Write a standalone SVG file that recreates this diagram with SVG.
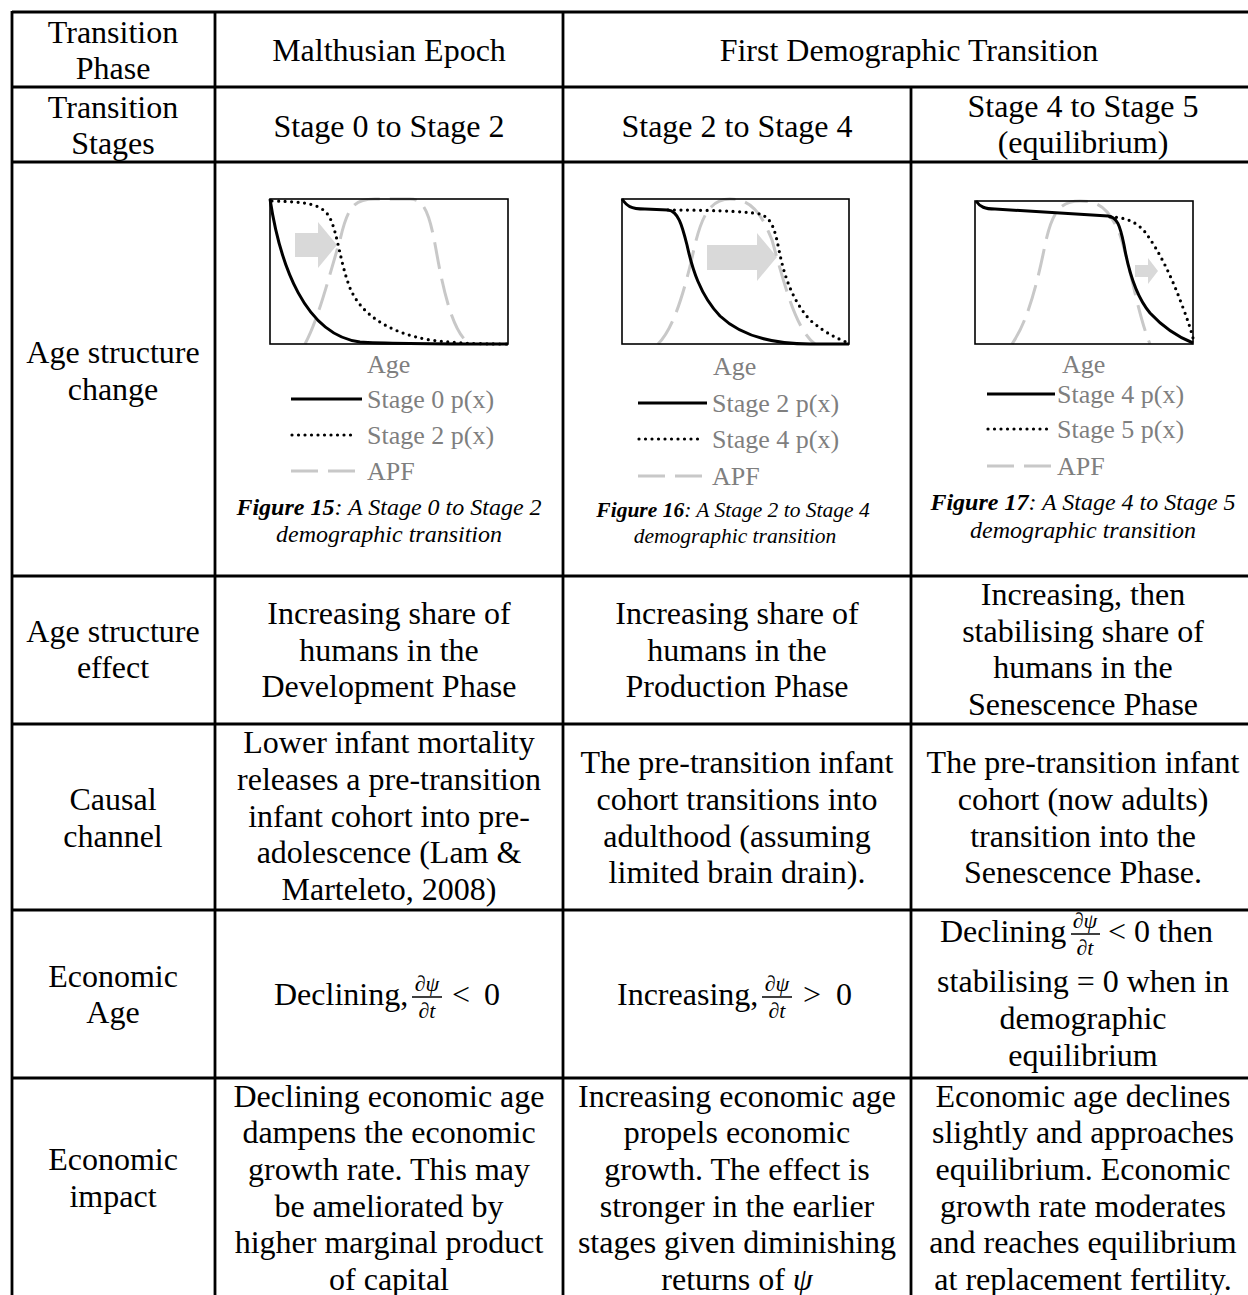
<svg xmlns="http://www.w3.org/2000/svg" width="1248" height="1295" viewBox="0 0 1248 1295">
<style>
.t{font-family:"Liberation Serif","Times New Roman",serif;font-size:32px;fill:#000;text-anchor:middle}
.m{font-family:"Liberation Serif","Times New Roman",serif;font-size:32px;fill:#000}
.fr{font-family:"Liberation Serif","Times New Roman",serif;font-size:22px;font-style:italic;fill:#000;text-anchor:middle}
.lg{font-family:"Liberation Serif","Times New Roman",serif;font-size:26px;fill:#7f7f7f}
.cap{font-family:"Liberation Serif","Times New Roman",serif;font-size:24px;font-style:italic;fill:#000;text-anchor:middle}
.cap2{font-size:21.5px}
.grid line{stroke:#000;stroke-width:2.8}
.box{fill:none;stroke:#000;stroke-width:1.6}
.solid{fill:none;stroke:#000;stroke-width:3}
.dot{fill:none;stroke:#000;stroke-width:3.2;stroke-dasharray:0 6.5;stroke-linecap:round}
.apf{fill:none;stroke:#c8c8c8;stroke-width:3;stroke-dasharray:27 10}
.arr{fill:#d9d9d9}
.bar{stroke:#000;stroke-width:1.5}
</style>
<rect width="1248" height="1295" fill="#fff"/>
<g id="table-lines" class="grid">
<line x1="12" y1="12" x2="1248" y2="12"/>
<line x1="12" y1="87" x2="1248" y2="87"/>
<line x1="12" y1="162" x2="1248" y2="162"/>
<line x1="12" y1="576" x2="1248" y2="576"/>
<line x1="12" y1="724" x2="1248" y2="724"/>
<line x1="12" y1="910" x2="1248" y2="910"/>
<line x1="12" y1="1078" x2="1248" y2="1078"/>
<line x1="12" y1="11" x2="12" y2="1295"/>
<line x1="215" y1="11" x2="215" y2="1295"/>
<line x1="563" y1="11" x2="563" y2="1295"/>
<line x1="911" y1="87" x2="911" y2="1295"/>
</g>
<g id="connectors"/>
<g id="hdr-phase"><text class="t" x="113" y="43">Transition</text><text class="t" x="113" y="79">Phase</text></g>
<g id="hdr-malthusian"><text class="t" x="389" y="61">Malthusian Epoch</text></g>
<g id="hdr-fdt"><text class="t" x="909" y="61">First Demographic Transition</text></g>
<g id="hdr-stages"><text class="t" x="113" y="118">Transition</text><text class="t" x="113" y="154">Stages</text></g>
<g id="stage-0-2"><text class="t" x="389" y="137">Stage 0 to Stage 2</text></g>
<g id="stage-2-4"><text class="t" x="737" y="137">Stage 2 to Stage 4</text></g>
<g id="stage-4-5"><text class="t" x="1083" y="117">Stage 4 to Stage 5</text><text class="t" x="1083" y="153">(equilibrium)</text></g>
<g id="lbl-age-change"><text class="t" x="113" y="363">Age structure</text><text class="t" x="113" y="400">change</text></g>

<g id="chart-15">
<polygon class="arr" points="295,233 318,233 318,222 337,245 318,268 318,257 295,257"/>
<path class="apf" d="M305,344 C318,320 328,280 340,240 C348,205 355,199 375,199 L410,199 C425,199 430,215 437,255 C445,300 455,335 470,344"/>
<path class="solid" d="M270,199 C280,265 305,335 360,342 C385,344 420,344 508,344"/>
<path class="dot" d="M272,201 C305,202 322,203 330,218 C338,235 340,262 350,288 C360,312 385,332 430,340 C460,344 490,344 508,344"/>
<rect class="box" x="270" y="199" width="238" height="145"/>
<text class="lg" x="367" y="373">Age</text>
<line class="solid" x1="291" y1="399" x2="362" y2="399"/>
<text class="lg" x="367" y="408">Stage 0 p(x)</text>
<line class="dot" x1="292" y1="435" x2="356" y2="435"/>
<text class="lg" x="367" y="444">Stage 2 p(x)</text>
<line class="apf" x1="291" y1="471" x2="355" y2="471"/>
<text class="lg" x="367" y="480">APF</text>
<text class="cap" x="389" y="515"><tspan font-weight="bold">Figure 15</tspan>: A Stage 0 to Stage 2</text>
<text class="cap" x="389" y="542">demographic transition</text>
</g>

<g id="chart-16">
<polygon class="arr" points="707,245 757,245 757,233 777,257 757,281 757,270 707,270"/>
<path class="apf" d="M658,344 C672,330 682,300 692,258 C700,220 708,199 730,199 C752,199 762,215 772,240 C782,275 795,330 815,344"/>
<path class="solid" d="M622,199 C627,206 630,209 645,209 L668,210 C678,211 682,225 687,245 C692,268 700,295 720,316 C740,335 770,344 810,344 L849,344"/>
<path class="dot" d="M668,210 C700,210 745,211 760,214 C772,218 775,230 779,250 C784,275 792,300 810,320 C825,333 838,339 849,343"/>
<rect class="box" x="622" y="199" width="227" height="145"/>
<text class="lg" x="713" y="375">Age</text>
<line class="solid" x1="638" y1="403" x2="707" y2="403"/>
<text class="lg" x="712" y="412">Stage 2 p(x)</text>
<line class="dot" x1="639" y1="439" x2="702" y2="439"/>
<text class="lg" x="712" y="448">Stage 4 p(x)</text>
<line class="apf" x1="638" y1="476" x2="702" y2="476"/>
<text class="lg" x="712" y="485">APF</text>
<text class="cap cap2" x="733" y="517"><tspan font-weight="bold">Figure 16</tspan>: A Stage 2 to Stage 4</text>
<text class="cap cap2" x="735" y="543">demographic transition</text>
</g>

<g id="chart-17">
<polygon class="arr" points="1135,265 1148,265 1148,258 1158,271 1148,284 1148,277 1135,277"/>
<path class="apf" d="M1012,344 C1025,325 1035,295 1045,245 C1052,212 1060,201 1080,201 C1100,201 1110,210 1120,235 C1130,265 1138,315 1150,344"/>
<path class="solid" d="M976,201 C980,207 985,209 995,209 L1108,216 C1117,217 1120,225 1124,245 C1128,268 1135,295 1150,313 C1162,326 1178,337 1193,343"/>
<path class="dot" d="M1110,217 C1122,217 1135,220 1145,232 C1160,252 1172,278 1182,305 C1187,318 1191,330 1193,338"/>
<rect class="box" x="975" y="201" width="218" height="143"/>
<text class="lg" x="1062" y="373">Age</text>
<line class="solid" x1="987" y1="394" x2="1055" y2="394"/>
<text class="lg" x="1057" y="403">Stage 4 p(x)</text>
<line class="dot" x1="988" y1="429" x2="1052" y2="429"/>
<text class="lg" x="1057" y="438">Stage 5 p(x)</text>
<line class="apf" x1="987" y1="466" x2="1055" y2="466"/>
<text class="lg" x="1057" y="475">APF</text>
<text class="cap" x="1083" y="510"><tspan font-weight="bold">Figure 17</tspan>: A Stage 4 to Stage 5</text>
<text class="cap" x="1083" y="538">demographic transition</text>
</g>

<g id="lbl-age-effect"><text class="t" x="113" y="642">Age structure</text><text class="t" x="113" y="678">effect</text></g>
<g id="effect-dev"><text class="t" x="389" y="624">Increasing share of</text><text class="t" x="389" y="661">humans in the</text><text class="t" x="389" y="697">Development Phase</text></g>
<g id="effect-prod"><text class="t" x="737" y="624">Increasing share of</text><text class="t" x="737" y="661">humans in the</text><text class="t" x="737" y="697">Production Phase</text></g>
<g id="effect-sen"><text class="t" x="1083" y="605">Increasing, then</text><text class="t" x="1083" y="642">stabilising share of</text><text class="t" x="1083" y="678">humans in the</text><text class="t" x="1083" y="715">Senescence Phase</text></g>

<g id="lbl-causal"><text class="t" x="113" y="810">Causal</text><text class="t" x="113" y="847">channel</text></g>
<g id="causal-1"><text class="t" x="389" y="753">Lower infant mortality</text><text class="t" x="389" y="790">releases a pre-transition</text><text class="t" x="389" y="827">infant cohort into pre-</text><text class="t" x="389" y="863">adolescence (Lam &amp;</text><text class="t" x="389" y="900">Marteleto, 2008)</text></g>
<g id="causal-2"><text class="t" x="737" y="773">The pre-transition infant</text><text class="t" x="737" y="810">cohort transitions into</text><text class="t" x="737" y="847">adulthood (assuming</text><text class="t" x="737" y="883">limited brain drain).</text></g>
<g id="causal-3"><text class="t" x="1083" y="773">The pre-transition infant</text><text class="t" x="1083" y="810">cohort (now adults)</text><text class="t" x="1083" y="847">transition into the</text><text class="t" x="1083" y="883">Senescence Phase.</text></g>

<g id="lbl-econ-age"><text class="t" x="113" y="987">Economic</text><text class="t" x="113" y="1023">Age</text></g>
<g id="econ-age-1">
<text class="m" x="274" y="1005">Declining,</text>
<text class="fr" x="427" y="991">∂ψ</text><line class="bar" x1="412" y1="997" x2="442" y2="997"/><text class="fr" x="427" y="1018">∂t</text>
<text class="m" x="452" y="1005">&lt;</text><text class="m" x="484" y="1005">0</text>
</g>
<g id="econ-age-2">
<text class="m" x="617" y="1005">Increasing,</text>
<text class="fr" x="777" y="991">∂ψ</text><line class="bar" x1="762" y1="997" x2="792" y2="997"/><text class="fr" x="777" y="1018">∂t</text>
<text class="m" x="803" y="1005">&gt;</text><text class="m" x="836" y="1005">0</text>
</g>
<g id="econ-age-3">
<text class="m" x="940" y="942">Declining</text>
<text class="fr" x="1085" y="928">∂ψ</text><line class="bar" x1="1071" y1="934" x2="1100" y2="934"/><text class="fr" x="1085" y="955">∂t</text>
<text class="m" x="1108" y="942">&lt;</text><text class="m" x="1134" y="942">0</text><text class="m" x="1158" y="942">then</text>
<text class="t" x="1083" y="992">stabilising = 0 when in</text>
<text class="t" x="1083" y="1029">demographic</text>
<text class="t" x="1083" y="1066">equilibrium</text>
</g>

<g id="lbl-econ-impact"><text class="t" x="113" y="1170">Economic</text><text class="t" x="113" y="1207">impact</text></g>
<g id="impact-1"><text class="t" x="389" y="1107">Declining economic age</text><text class="t" x="389" y="1143">dampens the economic</text><text class="t" x="389" y="1180">growth rate. This may</text><text class="t" x="389" y="1217">be ameliorated by</text><text class="t" x="389" y="1253">higher marginal product</text><text class="t" x="389" y="1290">of capital</text></g>
<g id="impact-2"><text class="t" x="737" y="1107">Increasing economic age</text><text class="t" x="737" y="1143">propels economic</text><text class="t" x="737" y="1180">growth. The effect is</text><text class="t" x="737" y="1217">stronger in the earlier</text><text class="t" x="737" y="1253">stages given diminishing</text><text class="t" x="737" y="1290">returns of <tspan font-style="italic">ψ</tspan></text></g>
<g id="impact-3"><text class="t" x="1083" y="1107">Economic age declines</text><text class="t" x="1083" y="1143">slightly and approaches</text><text class="t" x="1083" y="1180">equilibrium. Economic</text><text class="t" x="1083" y="1217">growth rate moderates</text><text class="t" x="1083" y="1253">and reaches equilibrium</text><text class="t" x="1083" y="1290">at replacement fertility.</text></g>
</svg>
